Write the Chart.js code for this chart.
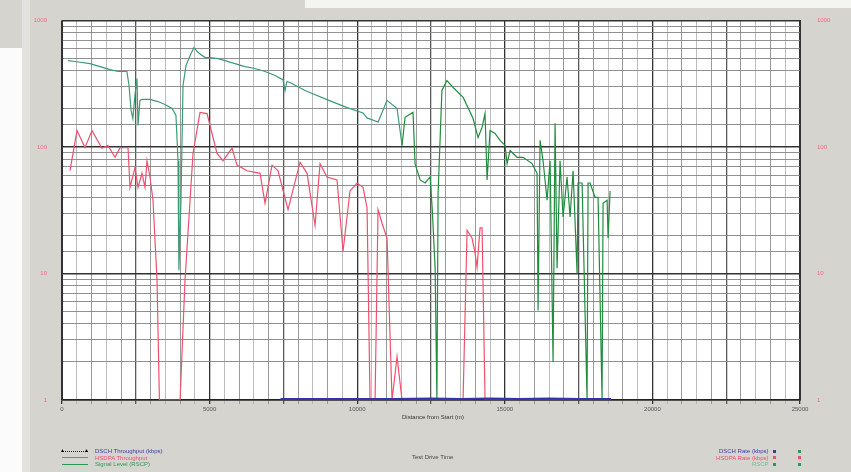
<!DOCTYPE html>
<html lang="en">
<head>
<meta charset="utf-8">
<title>Throughput vs Distance</title>
<script src="https://cdn.jsdelivr.net/npm/chart.js@4.4.1/dist/chart.umd.min.js"></script>
<style>
    body { margin: 0; background: #d6d4cf; font-family: "Liberation Sans", Arial, sans-serif; }
    #wrap { position: relative; width: 851px; height: 472px; overflow: hidden; }
    #topStrip { position: absolute; left: 305px; top: 0; width: 546px; height: 8px; background: #f4f4f2; }
    #leftStrip { position: absolute; left: 0; top: 48px; width: 22px; height: 424px; background: #fbfbfb; }
    #leftPanel { position: absolute; left: 22px; top: 0; width: 8px; height: 472px; background: #e4e2de; }
    canvas { position: absolute; left: 0; top: 0; }
    .txt { position: absolute; font-size: 6px; white-space: nowrap; }
    .legend { position: absolute; font-size: 6px; line-height: 6.5px; }
    .row { display: flex; align-items: center; height: 6.5px; }
    .sw { width: 26px; height: 0; margin-right: 7px; position: relative; }
    .mk { display: inline-block; width: 3px; height: 3px; margin-left: 4px; }
</style>
</head>
<body>
<div id="wrap">
    <div id="topStrip"></div>
    <div id="leftStrip"></div>
    <div id="leftPanel"></div>
    <canvas id="chart" width="851" height="472"></canvas>

    <div class="txt" style="left:402px; top:414px; color:#333;">Distance from Start (m)</div>
    <div class="txt" style="left:412px; top:454px; color:#444;">Test Drive Time</div>

    <div class="legend" style="left:62px; top:448px;">
        <div class="row"><div class="sw" style="border-top:1px dotted #222;"><span style="position:absolute;left:-2px;top:-5px;font-size:5px;">▲</span><span style="position:absolute;left:22px;top:-5px;font-size:5px;">▲</span></div><span style="color:#3a3aa8;">DSCH Throughput (kbps)</span></div>
        <div class="row"><div class="sw" style="border-top:1.5px solid #f0506e;"></div><span style="color:#f0506e;">HSDPA Throughput</span></div>
        <div class="row"><div class="sw" style="border-top:1.5px solid #2a9a55;"></div><span style="color:#2a9a55;">Signal Level (RSCP)</span></div>
    </div>

    <div class="legend" style="left:716px; top:448px; text-align:right;">
        <div class="row" style="justify-content:flex-end;"><span style="color:#3a3aa8;">DSCH Rate (kbps)</span><span class="mk" style="background:#3a3aa8;"></span><span class="mk" style="background:#2a9a55;margin-left:22px;"></span></div>
        <div class="row" style="justify-content:flex-end;"><span style="color:#f0506e;">HSDPA Rate (kbps)</span><span class="mk" style="background:#f0506e;"></span><span class="mk" style="background:#f0506e;margin-left:22px;"></span></div>
        <div class="row" style="justify-content:flex-end;"><span style="color:#7ab98f;">RSCP</span><span class="mk" style="background:#2a9a55;"></span><span class="mk" style="background:#2a9a55;margin-left:22px;"></span></div>
    </div>
</div>

<script>
    // tick labels
    const xTickLabels = ['0', '5000', '10000', '15000', '20000', '25000'];
    const yTickLabels = ['1', '10', '100', '1000'];

    // green series (signal level)
    const greenX = [200, 440, 950, 1290, 1630, 1900, 2200, 2270, 2340, 2400, 2470, 2540, 2575, 2640, 2710, 2980,
        3250, 3490, 3730, 3860, 3930, 3960, 4030, 4100, 4200, 4340, 4470, 4610, 4850, 5010, 5290, 5520, 5860,
        6200, 6540, 6880, 7220, 7490, 7555, 7620, 7725, 8230, 9080, 9660, 10200, 10330, 10710, 11010, 11350, 11520,
        11620, 11890, 11960, 12130, 12300, 12470, 12540, 12640, 12700, 12740, 12870, 13040, 13250, 13590, 13925,
        14094, 14230, 14330, 14400, 14500, 14670, 14840, 15010, 15077, 15180, 15415, 15620, 15924, 16093, 16127,
        16195, 16296, 16432, 16534, 16635, 16703, 16771, 16872, 16974, 17109, 17211, 17313, 17448, 17482, 17618,
        17787, 17821, 17889, 18058, 18160, 18295, 18329, 18465, 18499, 18567];
    const greenY = [483, 475, 457, 433, 410, 396, 396, 307, 195, 168, 256, 348, 148, 234, 238, 238,
        229, 217, 202, 178, 78, 10.6, 38, 307, 441, 529, 612, 559, 510, 510, 501, 483, 457,
        433, 418, 396, 368, 340, 280, 330, 324, 280, 232, 205, 186, 170, 158, 234, 202, 103,
        172, 188, 74, 55, 52, 58, 33, 11, 1, 43, 280, 336, 296, 247, 168,
        119, 143, 184, 55, 135, 128, 113, 103, 74, 94, 83, 83, 74, 62, 5.1,
        113, 78, 38, 78, 2, 154, 11, 78, 28, 58, 28, 65, 10, 52, 52,
        1, 52, 52, 40, 40, 1, 36, 38, 19, 45];

    // red series (HSDPA throughput)
    const redX = [271, 508, 779, 1016, 1355, 1558, 1796, 1965, 2236, 2304, 2473, 2575, 2710, 2812, 2880, 2981,
        3083, 3219, 3300, 4000, 4167, 4438, 4675, 4913, 5251, 5455, 5760, 5929, 6268, 6708, 6878, 7115, 7318,
        7657, 8063, 8301, 8572, 8741, 8978, 9317, 9520, 9757, 9995, 10198, 10334, 10435, 10605, 10706, 10842,
        11011, 11180, 11350, 11519, 13586, 13722, 13891, 13993, 14060, 14162, 14230, 14331, 18600];
    const redY = [65, 135, 99, 135, 98, 103, 83, 99, 99, 48, 69, 48, 62, 48, 78, 58,
        38, 8.9, 1, 1, 8.9, 89, 188, 184, 89, 78, 98, 72, 65, 62, 36, 72, 65,
        32, 76, 62, 24, 74, 58, 55, 15, 45, 52, 48, 33, 1, 1, 32, 25,
        19, 1, 2.2, 1, 1, 22, 19, 14.5, 11.2, 23, 23, 1, 1];

    // blue series (DSCH throughput), sits on the floor
    const blueX = [7400, 7700, 11300, 12500, 13500, 14500, 15500, 16500, 17500, 18600];
    const blueY = [1.02, 1.02, 1.02, 1.03, 1.02, 1.03, 1.02, 1.03, 1.02, 1.02];

    function pts(xs, ys) {
        return xs.map((x, i) => ({ x: x, y: ys[i] }));
    }

    const isDecade = v => Math.abs(Math.log10(v) - Math.round(Math.log10(v))) < 1e-9;

    const plotBg = {
        id: 'plotBg',
        beforeDraw(chart) {
            const a = chart.chartArea, c = chart.ctx;
            c.save();
            c.fillStyle = '#ffffff';
            c.fillRect(a.left, a.top, a.right - a.left, a.bottom - a.top);
            c.restore();
        }
    };

    const yAxis = (pos, width, pad) => ({
        type: 'logarithmic',
        position: pos,
        min: 1,
        max: 1000,
        afterFit: s => { s.width = width; },
        border: { display: true, color: '#333', width: 1 },
        grid: {
            drawOnChartArea: pos === 'left',
            drawTicks: false,
            color: c => isDecade(c.tick.value) ? '#333' : '#858585',
            lineWidth: c => isDecade(c.tick.value) ? 1.6 : 0.9
        },
        ticks: {
            autoSkip: false,
            padding: pad,
            color: '#ee6a82',
            font: { size: 6 },
            callback: v => yTickLabels.includes(String(v)) ? String(v) : ''
        }
    });

    new Chart(document.getElementById('chart'), {
        type: 'line',
        data: {
            datasets: [
                { label: 'DSCH', data: pts(blueX, blueY), borderColor: '#3333aa', borderWidth: 2, pointRadius: 0 },
                { label: 'HSDPA', data: pts(redX, redY), borderColor: '#f0506e', borderWidth: 1.2, pointRadius: 0 },
                {
                    label: 'RSCP', data: pts(greenX, greenY), borderColor: '#2a9a55', borderWidth: 1.2, pointRadius: 0,
                    segment: { borderColor: s => s.p0.parsed.x < 11500 ? '#3c9c74' : '#1f8c3e' }
                }
            ]
        },
        options: {
            responsive: false,
            animation: false,
            layout: { padding: { top: 20, left: 0, right: 0, bottom: 0 } },
            plugins: { legend: { display: false }, tooltip: { enabled: false } },
            scales: {
                x: {
                    type: 'linear',
                    min: 0,
                    max: 25000,
                    afterFit: s => { s.height = 72; },
                    border: { display: true, color: '#222', width: 1.5 },
                    grid: {
                        tickLength: 4,
                        color: c => {
                            const v = c.tick.value;
                            if (v % 5000 === 0) return '#333';
                            if (v % 2500 === 0) return '#5a5a5a';
                            if (v % 1000 === 0) return '#8e8e8e';
                            return '#b4b4b4';
                        },
                        lineWidth: c => c.tick.value % 2500 === 0 ? 1.3 : 0.9
                    },
                    ticks: {
                        stepSize: 500,
                        autoSkip: false,
                        maxRotation: 0,
                        padding: 2,
                        color: '#555',
                        font: { size: 6 },
                        callback: v => v % 5000 === 0 ? xTickLabels[v / 5000] : ''
                    }
                },
                y: yAxis('left', 62, 15),
                y2: yAxis('right', 51, 17)
            }
        },
        plugins: [plotBg]
    });
</script>
</body>
</html>
